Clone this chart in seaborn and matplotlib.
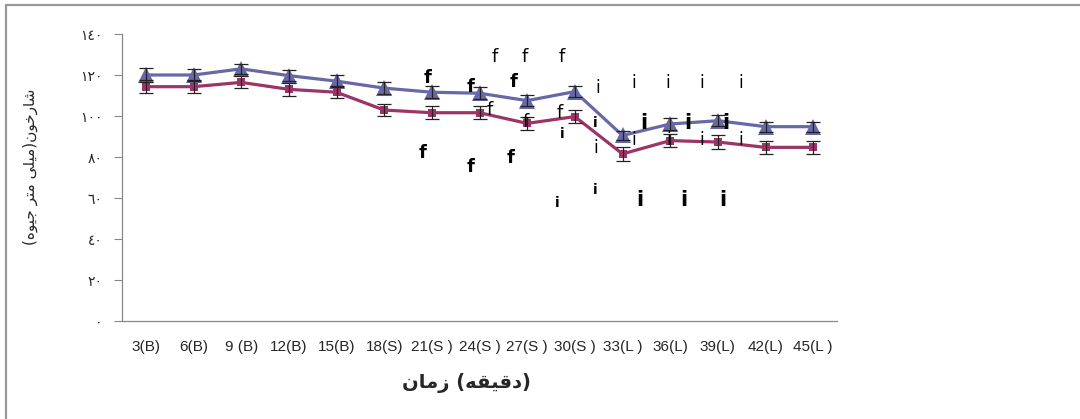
import matplotlib
matplotlib.use("Agg")
import matplotlib.pyplot as plt
from matplotlib.lines import Line2D
import seaborn as sns
import pandas as pd
import numpy as np

# ---- data ----
categories = ["3(B)", "6(B)", "9 (B)", "12(B)", "15(B)", "18(S)", "21(S )", "24(S )",
              "27(S )", "30(S )", "33(L )", "36(L)", "39(L)", "42(L)", "45(L )"]
blue_vals = [120, 120, 123, 119.7, 117, 113.6, 111.6, 111.1, 107.5, 111.9, 90.5, 96.1, 97.7, 94.8, 94.8]
blue_err = [3.3, 2.7, 2.4, 2.8, 2.9, 3.0, 3.0, 3.0, 2.7, 2.8, 2.4, 2.9, 2.6, 2.4, 2.4]
red_vals = [114.3, 114.3, 116.4, 113.0, 111.6, 102.9, 101.6, 101.6, 96.4, 99.7, 81.5, 88.0, 87.3, 84.7, 84.7]
red_err = [3.3, 3.3, 2.9, 3.3, 2.8, 2.8, 3.3, 3.3, 3.3, 3.1, 3.3, 3.3, 3.3, 3.0, 3.0]

y_ticks = [0, 20, 40, 60, 80, 100, 120, 140]
y_tick_labels = ["\u0660", "\u0662\u0660", "\u0664\u0660", "\u0666\u0660", "\u0668\u0660",
                 "\u0661\u0660\u0660", "\u0661\u0662\u0660", "\u0661\u0664\u0660"]

# visual-order (pre-shaped) Persian labels
x_label = "\ufee5\ufe8e\ufee3\ufeaf (\ufeea\ufed8\ufef4\ufed7\ufea9)"          # زمان (دقیقه)
y_label = "(\ufee9\ufeee\ufef4\ufe9f \ufeae\ufe98\ufee3 \ufef0\ufee0\ufef4\ufee3)\ufee5\ufeee\ufea7\ufead\ufe8e\ufeb7"  # شارخون(میلی متر جیوه)

# stray marker letters (x index, y value, char, weight, size)
ann_x = [7.32, 7.95, 8.72, 5.91, 6.81, 7.71, 7.21, 7.97, 8.68, 5.81, 6.81, 7.65,
         9.48, 10.23, 10.94, 11.66, 12.47, 9.43, 10.44, 11.36, 12.16, 9.43, 10.23, 10.96,
         11.66, 12.47, 9.43, 10.36, 11.28, 12.10, 8.74, 8.64]
ann_y = [128.8, 128.8, 128.8, 118.5, 114.1, 116.6, 102.9, 97.1, 101.5, 82.0, 75.1, 79.5,
         113.7, 116.1, 116.1, 116.1, 116.1, 96.6, 96.6, 96.6, 96.6, 84.4, 88.3, 88.3,
         88.3, 88.3, 63.9, 59.0, 59.0, 59.0, 91.2, 57.6]
ann_t = ["f"] * 12 + ["i"] * 20
ann_w = ["normal", "normal", "normal", "bold", "bold", "bold", "normal", "normal", "normal",
         "bold", "bold", "bold",
         "normal", "normal", "normal", "normal", "normal", "bold", "bold", "bold", "bold",
         "normal", "normal", "normal", "normal", "normal", "bold", "bold", "bold", "bold",
         "bold", "bold"]
ann_s = [13, 13, 13, 13, 13, 13, 13, 13, 13, 13, 13, 13,
         12, 12, 12, 12, 12, 10, 15, 15, 15, 12, 12, 12, 12, 12, 10, 15, 15, 15, 10, 10]

# ---- plot ----
sns.set_style("white")
plt.rcParams["font.family"] = ["Liberation Sans", "DejaVu Sans"]

fig = plt.figure(figsize=(10.8, 4.19), dpi=100)
ax = fig.add_axes([122 / 1080, 1 - 321 / 419, (837 - 122) / 1080, (321 - 34) / 419])

idx = np.arange(len(categories))
df = pd.DataFrame({
    "idx": np.concatenate([idx, idx]),
    "value": blue_vals + red_vals,
    "series": ["s1"] * len(idx) + ["s2"] * len(idx),
})
blue = "#6868A6"
red = "#9C3467"
sns.lineplot(data=df, x="idx", y="value", hue="series", style="series",
             palette={"s1": blue, "s2": red}, markers={"s1": "^", "s2": "s"},
             dashes=False, linewidth=2.3, legend=False, ax=ax, zorder=2,
             markeredgewidth=0)
for ln, ms in zip(ax.lines, [11, 5.5]):
    ln.set_markersize(ms)

ax.errorbar(idx, blue_vals, yerr=blue_err, fmt="none", ecolor="#222222",
            elinewidth=0.9, capsize=5, capthick=0.9, zorder=3)
ax.errorbar(idx, red_vals, yerr=red_err, fmt="none", ecolor="#222222",
            elinewidth=0.9, capsize=5, capthick=0.9, zorder=3)

for x, y, t, w, s in zip(ann_x, ann_y, ann_t, ann_w, ann_s):
    ax.text(x, y, t, ha="center", va="center", fontsize=s, fontweight=w,
            family=["DejaVu Sans"], color="black", zorder=4)

ax.set_xlim(-0.5, len(categories) - 0.5)
ax.set_ylim(0, 140)
ax.set_xticks(idx)
ax.set_xticklabels(categories, fontsize=11)
ax.set_xticks(np.arange(-0.5, len(categories), 1.0), minor=True)
ax.tick_params(axis="x", which="major", length=0, pad=14)
ax.tick_params(axis="x", which="minor", length=5, color="#888888", width=0.8, direction="out")
ax.set_yticks(y_ticks)
ax.set_yticklabels(y_tick_labels, fontsize=10, family=["DejaVu Sans"])
ax.tick_params(axis="y", length=6, color="#888888", width=0.8, direction="out", pad=8, left=True)
ax.set_xlabel("")
ax.set_ylabel("")
for sp in ["top", "right"]:
    ax.spines[sp].set_visible(False)
for sp in ["left", "bottom"]:
    ax.spines[sp].set_color("#888888")
    ax.spines[sp].set_linewidth(0.9)
ax.grid(False)

fig.text(466 / 1080, 1 - 383 / 419, x_label, ha="center", va="center",
         fontsize=14, fontweight="bold", family=["DejaVu Sans"])
fig.text(30 / 1080, 1 - 167 / 419, y_label, ha="center", va="center", rotation=90,
         fontsize=11, family=["DejaVu Sans"])

# outer frame (top and left edges)
fig.add_artist(Line2D([6 / 1080, 1.0], [1 - 5 / 419, 1 - 5 / 419], color="#999999",
                      linewidth=1.6, transform=fig.transFigure))
fig.add_artist(Line2D([6 / 1080, 6 / 1080], [0.0, 1 - 5 / 419], color="#999999",
                      linewidth=1.6, transform=fig.transFigure))

fig.savefig("out.png", dpi=100)
